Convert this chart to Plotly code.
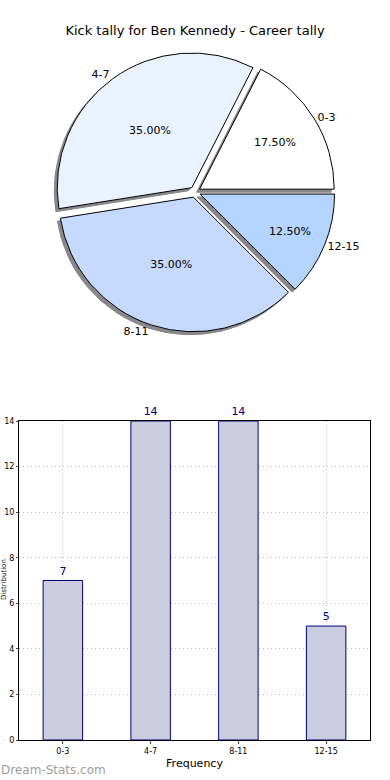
import plotly.graph_objects as go

categories = ["0-3", "4-7", "8-11", "12-15"]
counts = [7, 14, 14, 5]
pie_colors = ["#ffffff", "#ebf2ff", "#c6d9ff", "#b4d5ff"]
y_ticks = [0, 2, 4, 6, 8, 10, 12, 14]

W, H = 390, 780
ml, mr, mt, mb = 19, 20, 0, 40
pw, ph = W - ml - mr, H - mt - mb

def fx(px):
    return (px - ml) / pw

def fy(py):
    return 1 - (py - mt) / ph

font = "DejaVu Sans, Verdana, sans-serif"
pull = [0.04, 0.04, 0.04, 0.04]
rot = 27

cx0, cx1 = fx(55), fx(335)
cy0, cy1 = fy(332), fy(52)
dx, dy = 3 / pw, 3 / ph

fig = go.Figure()

# shadow
fig.add_trace(go.Pie(
    labels=categories, values=counts, sort=False, direction="counterclockwise",
    rotation=rot, pull=pull, marker=dict(colors=["#888888"] * 4, line=dict(color="#888888", width=1)),
    textinfo="none", hoverinfo="skip", showlegend=False,
    domain=dict(x=[cx0 - dx, cx1 - dx], y=[cy0 - dy, cy1 - dy]),
))
# main pie with percentages
fig.add_trace(go.Pie(
    labels=categories, values=counts, sort=False, direction="counterclockwise",
    rotation=rot, pull=pull, marker=dict(colors=pie_colors, line=dict(color="#000000", width=1)),
    texttemplate="%{percent:.2%}", textposition="inside", insidetextorientation="horizontal",
    textfont=dict(family=font, size=11, color="#000000"),
    showlegend=False, domain=dict(x=[cx0, cx1], y=[cy0, cy1]),
))
# outside labels
fig.add_trace(go.Pie(
    labels=categories, values=counts, sort=False, direction="counterclockwise",
    rotation=rot, pull=[p + 0.17 for p in pull],
    marker=dict(colors=["rgba(0,0,0,0)"] * 4, line=dict(width=0)),
    texttemplate="%{label}", textposition="outside",
    textfont=dict(family=font, size=11, color="#000000"),
    hoverinfo="skip", showlegend=False, domain=dict(x=[cx0, cx1], y=[cy0, cy1]),
))

fig.add_trace(go.Bar(
    x=categories, y=counts, width=0.45,
    marker=dict(color="#ccccdf", line=dict(color="#000080", width=1)),
    text=[str(c) for c in counts], textposition="outside", cliponaxis=False,
    textfont=dict(family=font, size=11, color="#000080"),
    showlegend=False, xaxis="x", yaxis="y",
))

grid = dict(showgrid=True, gridcolor="#b8b8b8", griddash="1px,3px", gridwidth=1)
fig.update_layout(
    width=W, height=H, margin=dict(l=ml, r=mr, t=mt, b=mb, autoexpand=False),
    paper_bgcolor="white", plot_bgcolor="white",
    font=dict(family=font, color="#000000"),
    title=dict(text="Kick tally for Ben Kennedy - Career tally", x=0.5, xanchor="center",
               y=1 - 30 / H, yanchor="middle", font=dict(family=font, size=13)),
    xaxis=dict(domain=[0, 1], range=[-0.5, 3.5], type="category", automargin=False,
               showline=True, mirror=True, linecolor="#000000", linewidth=1, **grid,
               ticks="outside", ticklen=3, tickfont=dict(size=8, family=font),
               title=dict(text="Frequency", font=dict(size=11, family=font), standoff=4),
               zeroline=False, anchor="y"),
    yaxis=dict(domain=[0, fy(421)], range=[0, 14], tickvals=y_ticks, automargin=False,
               showline=True, mirror=True, linecolor="#000000", linewidth=1, **grid,
               ticks="outside", ticklen=2, tickfont=dict(size=8, family=font),
               zeroline=False, anchor="x"),
    annotations=[
        dict(text="Dream-Stats.com", x=fx(-1), y=fy(770), xref="paper", yref="paper",
             showarrow=False, font=dict(size=12, family=font, color="#a0a0a0"),
             xanchor="left", yanchor="middle"),
        dict(text="Distribution", x=fx(-1), y=fy(580), xref="paper", yref="paper",
             showarrow=False, textangle=-90, borderpad=0,
             font=dict(size=7, family=font, color="#000000"),
             xanchor="left", yanchor="middle"),
    ],
)

fig.write_html("out.html", config={"displayModeBar": False},
               post_script="document.body.style.margin='0';")
